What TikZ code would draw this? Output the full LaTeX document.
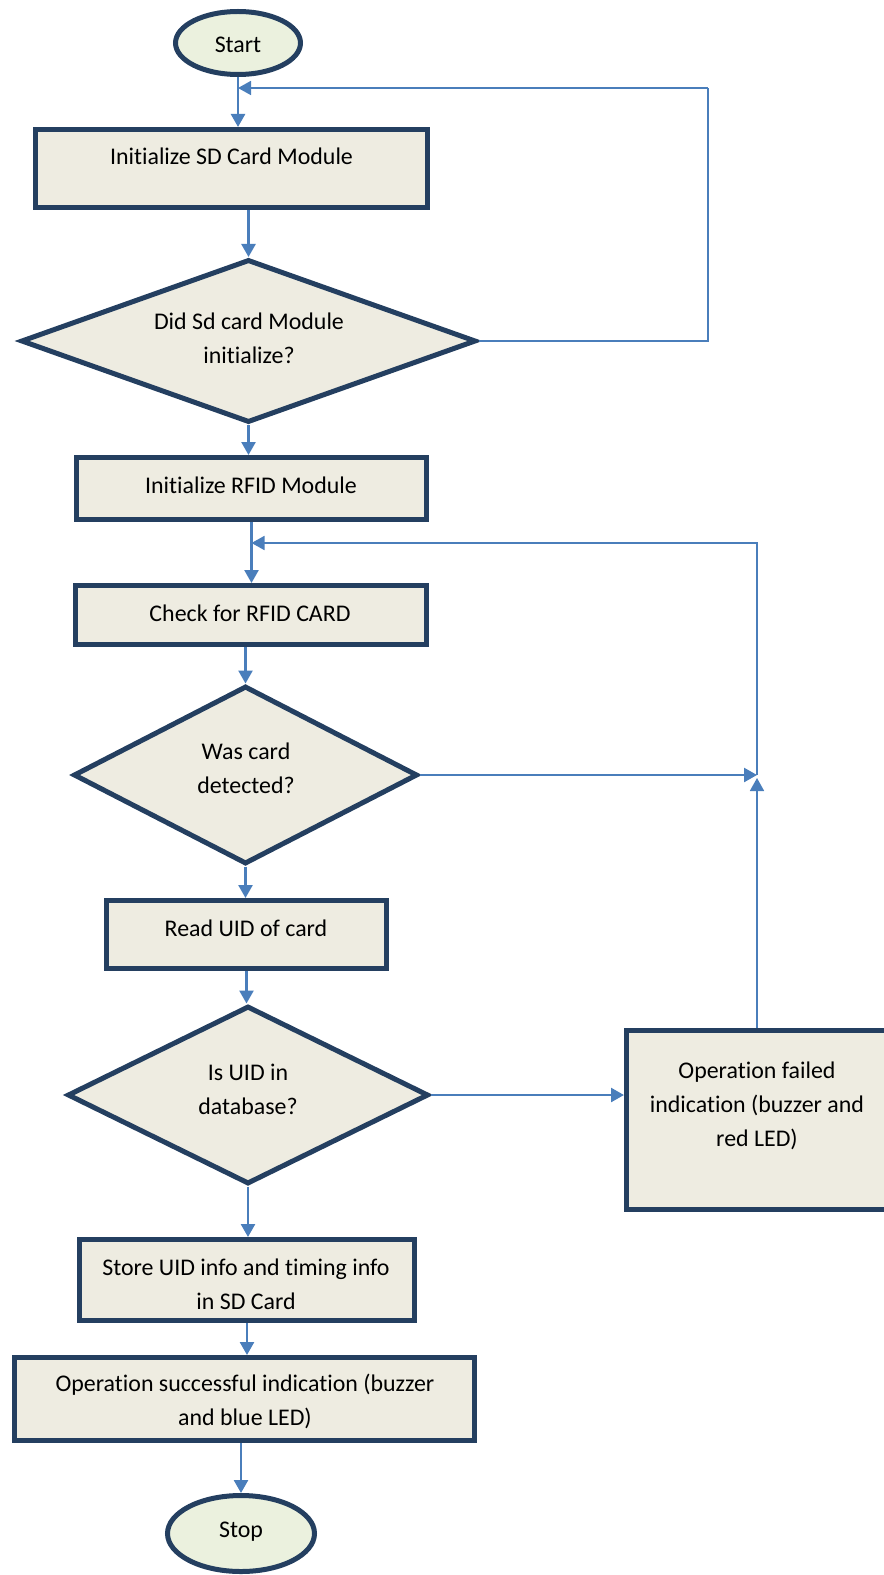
\documentclass[tikz,border=0pt]{standalone}
\usepackage{fontspec}
\setmainfont{Carlito}[Ligatures=NoCommon]
\usetikzlibrary{shapes.geometric,arrows.meta}

\begin{document}
\begin{tikzpicture}[
    procbox/.style={rectangle, draw=r36g63b96, fill=r238g236b225, line width=0.100000cm, inner sep=0pt},
    decbox/.style={diamond, draw=r36g63b96, fill=r238g236b225, line width=0.100000cm, inner sep=0pt},
    termbox/.style={ellipse, draw=r36g63b96, fill=r235g241b222, line width=0.100000cm, inner sep=0pt},
    txt/.style={font=\fontsize{13.6pt}{19.35pt}\selectfont, align=center, inner sep=0pt},
    flow/.style={draw=r74g126b187, line width=0.050000cm, -{Triangle[length=0.260000cm,width=0.280000cm]}},
    loopline/.style={draw=r74g126b187, line width=0.035000cm}]
                            \useasboundingbox (0,0) rectangle (17.660000,-31.500000);
                            
                            % Changing color 36 63 96 and fills
                            \definecolor{r36g63b96}{rgb}{0.141176,0.247059,0.376471}%
                            \definecolor{r238g236b225}{rgb}{0.933333,0.925490,0.882353}%
                            \definecolor{r235g241b222}{rgb}{0.921569,0.945098,0.870588}%
                            \definecolor{r74g126b187}{rgb}{0.290196,0.494118,0.733333}%
                            
                            % Drawing terminal Start
                            \node [termbox, minimum width=2.500000cm, minimum height=1.260000cm] (start) at (4.760000,-0.860000) {};%
                            \draw (4.760000,-0.900000) node [txt] (start-t) {Start};%
                            
                            % Drawing box Initialize SD Card Module
                            \node [procbox, minimum width=7.840000cm, minimum height=1.560000cm] (sdinit) at (4.630000,-3.370000) {};%
                            \draw (4.630000,-3.120000) node [txt] (sdinit-t) {Initialize SD Card Module};%
                            
                            % Drawing decision Did Sd card Module initialize?
                            \node [decbox, minimum width=9.100000cm, minimum height=3.260000cm] (sdok) at (4.970000,-6.820000) {};%
                            \draw (4.980000,-6.760000) node [txt] (sdok-t) {Did Sd card Module\\initialize?};%
                            
                            % Drawing box Initialize RFID Module
                            \node [procbox, minimum width=7.000000cm, minimum height=1.240000cm] (rfidinit) at (5.030000,-9.770000) {};%
                            \draw (5.020000,-9.700000) node [txt] (rfidinit-t) {Initialize RFID Module};%
                            
                            % Drawing box Check for RFID CARD
                            \node [procbox, minimum width=7.020000cm, minimum height=1.180000cm] (cardcheck) at (5.020000,-12.300000) {};%
                            \draw (5.000000,-12.260000) node [txt] (cardcheck-t) {Check for RFID CARD};%
                            
                            % Drawing decision Was card detected?
                            \node [decbox, minimum width=6.880000cm, minimum height=3.560000cm] (carddet) at (4.910000,-15.500000) {};%
                            \draw (4.920000,-15.370000) node [txt] (carddet-t) {Was card\\detected?};%
                            
                            % Drawing box Read UID of card
                            \node [procbox, minimum width=5.600000cm, minimum height=1.360000cm] (readuid) at (4.930000,-18.690000) {};%
                            \draw (4.920000,-18.560000) node [txt] (readuid-t) {Read UID of card};%
                            
                            % Drawing decision Is UID in database?
                            \node [decbox, minimum width=7.220000cm, minimum height=3.560000cm] (uidok) at (4.960000,-21.900000) {};%
                            \draw (4.960000,-21.780000) node [txt] (uidok-t) {Is UID in\\database?};%
                            
                            % Drawing box Operation failed
                            \node [procbox, minimum width=5.220000cm, minimum height=3.580000cm] (failled) at (15.140000,-22.400000) {};%
                            \draw (15.140000,-22.120000) node [txt] (failled-t) {Operation failed\\indication (buzzer and\\red LED)};%
                            
                            % Drawing box Store UID info
                            \node [procbox, minimum width=6.700000cm, minimum height=1.620000cm] (storeuid) at (4.940000,-25.600000) {};%
                            \draw (4.920000,-25.680000) node [txt] (storeuid-t) {Store UID info and timing info\\in SD Card};%
                            
                            % Drawing box Operation successful
                            \node [procbox, minimum width=9.200000cm, minimum height=1.660000cm] (okled) at (4.890000,-27.980000) {};%
                            \draw (4.900000,-28.020000) node [txt] (okled-t) {Operation successful indication (buzzer\\and blue LED)};%
                            
                            % Drawing terminal Stop
                            \node [termbox, minimum width=2.940000cm, minimum height=1.520000cm] (stop) at (4.820000,-30.670000) {};%
                            \draw (4.820000,-30.640000) node [txt] (stop-t) {Stop};%
                            
                            % Marking joints of the loops
                            \coordinate (sdturn) at (14.160000,-1.760000);%
                            \coordinate (sdjoin) at (start.south |- 0,-1.760000);%
                            \coordinate (rfidjoin) at (rfidinit.south |- 0,-10.860000);%
                            \coordinate (jn) at (carddet.east -| failled.north);%
                            
                            % Drawing connectors down the main line
                            \draw [flow] (start.south) -- (start.south |- sdinit.north);%
                            \draw [flow] (sdinit.south -| sdok.north) -- (sdok.north);%
                            \draw [flow] (sdok.south) -- (sdok.south |- rfidinit.north);%
                            \draw [flow] (rfidinit.south) -- (rfidinit.south |- cardcheck.north);%
                            \draw [flow] (carddet.north |- cardcheck.south) -- (carddet.north);%
                            \draw [flow] (carddet.south) -- (carddet.south |- readuid.north);%
                            \draw [flow] (readuid.south) -- (readuid.south |- uidok.north);%
                            \draw [flow] (uidok.south) -- (uidok.south |- storeuid.north);%
                            \draw [flow] (storeuid.south) -- (storeuid.south |- okled.north);%
                            \draw [flow] (stop.north |- okled.south) -- (stop.north);%
                            
                            % Drawing connector uidok failled
                            \draw [flow] (uidok.east) -- (uidok.east -| failled.west);%
                            
                            % Drawing loop back to SD card init
                            \draw [loopline] (sdok.east) -| (sdturn);%
                            \draw [loopline, -{Triangle[length=0.260000cm,width=0.280000cm]}] (sdturn) -- (sdjoin);%
                            
                            % Drawing loop back to card check
                            \draw [flow] (carddet.east) -- (jn);%
                            \draw [flow, line width=0.035000cm] (failled.north) -- ([yshift=-0.060000cm]jn);%
                            \draw [loopline, -{Triangle[length=0.260000cm,width=0.280000cm]}] (jn) |- (rfidjoin);%
                        \end{tikzpicture}
\end{document}
